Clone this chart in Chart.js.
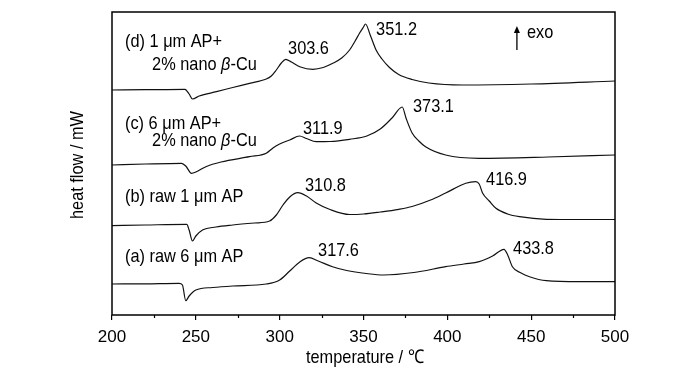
<!DOCTYPE html>
<html>
<head>
<meta charset="utf-8">
<script src="https://cdn.jsdelivr.net/npm/chart.js@4.4.1/dist/chart.umd.min.js"></script>
<style>
  html, body { margin: 0; padding: 0; background: #fff; }
  #wrap { width: 700px; height: 373px; }
</style>
</head>
<body>
<div id="wrap"><canvas id="dsc"></canvas></div>
<script>
// DSC curves, temperature (°C) vs heat flow (arbitrary, curves offset)
const tempA = [200, 220, 240, 242, 244, 246, 250, 260, 272, 292, 300, 306, 312, 317.6, 323, 331.5, 340, 351.6, 362, 380, 399, 410, 419, 427, 433.8, 436, 438.8, 444, 449, 459, 478.6, 500];
const flowA = [3.1, 3.12, 3.17, 3.0, 1.43, 1.9, 2.5, 2.75, 2.9, 3.1, 3.5, 4.4, 5.3, 5.73, 5.4, 4.83, 4.45, 4.15, 4.0, 4.25, 4.83, 5.1, 5.33, 5.9, 6.57, 6.0, 4.83, 4.2, 3.83, 3.43, 3.33, 3.33];

const tempB = [200, 220, 244.6, 246, 248, 250, 254, 262, 272, 285, 294, 298, 302, 306, 310.8, 316, 321.8, 330, 341.7, 350, 360, 371, 379, 390, 399, 411, 416.9, 419, 421, 425, 429, 436, 443, 459, 480, 500];
const flowB = [8.93, 9.0, 9.07, 8.5, 7.4, 7.9, 8.5, 8.8, 9.0, 9.2, 9.4, 10.0, 11.0, 11.8, 12.23, 11.9, 11.2, 10.55, 10.05, 10.1, 10.3, 10.57, 10.85, 11.5, 12.2, 13.17, 13.33, 13.1, 12.2, 11.4, 10.67, 10.1, 9.83, 9.57, 9.55, 9.55];

const tempC = [200, 220, 241.5, 244, 247.4, 250, 256, 265, 282, 292, 296, 300, 306, 311.9, 316, 321.8, 330, 341.7, 352, 360, 367, 373.1, 375.4, 379, 383, 387, 399, 419, 460, 500];
const flowC = [15.0, 15.1, 15.17, 14.9, 14.17, 14.3, 14.83, 15.3, 15.83, 16.17, 16.7, 17.1, 17.5, 17.9, 17.65, 17.33, 17.35, 17.57, 17.9, 18.6, 19.7, 20.8, 19.67, 18.2, 17.4, 16.83, 16.0, 15.67, 15.8, 16.0];

const tempD = [200, 220, 243.5, 246, 248, 252, 262.3, 272, 282, 292, 295, 298, 301, 303.6, 307, 312, 319.8, 326, 331.7, 337, 341.7, 345, 347.6, 350, 351.2, 354, 357.5, 361, 365.5, 371, 379, 389, 409, 450, 500];
const flowD = [22.5, 22.53, 22.57, 22.1, 21.6, 21.9, 22.33, 22.75, 23.17, 23.6, 23.9, 24.5, 25.2, 25.57, 25.3, 24.83, 24.57, 24.75, 25.17, 25.7, 26.5, 27.4, 28.17, 28.8, 29.1, 28.0, 26.5, 25.6, 24.75, 24.05, 23.55, 23.2, 23.0, 23.1, 23.4];

const xTicks = [200, 250, 300, 350, 400, 450, 500];

// text placed in data coordinates: [text, temperature, flow]
const notes = [
  ['(d) 1 \u03bcm AP+', 207.75, 27.3],
  ['2% nano |\u03b2|-Cu', 223.9, 25.0],
  ['(c) 6 \u03bcm AP+', 207.75, 19.1],
  ['2% nano |\u03b2|-Cu', 223.9, 17.4],
  ['(b) raw 1 \u03bcm AP', 207.75, 11.8],
  ['(a) raw 6 \u03bcm AP', 207.75, 5.8],
  ['303.6', 305.0, 26.6],
  ['351.2', 357.5, 28.5],
  ['311.9', 313.9, 18.6],
  ['373.1', 379.5, 20.8],
  ['310.8', 315.1, 12.9],
  ['416.9', 423.1, 13.5],
  ['317.6', 322.9, 6.4],
  ['433.8', 439.2, 6.6],
  ['exo', 447.5, 28.2]
];

const FONT = '"Liberation Sans", Arial, sans-serif';
const SQUEEZE = 0.86; // the original text is a condensed sans

function series(t, f) {
  return t.map((x, i) => ({ x: x, y: f[i] }));
}

// draws text squeezed horizontally, "|" toggles italic
function squeezed(ctx, txt, x, y, size, align) {
  ctx.save();
  ctx.translate(x, y);
  ctx.scale(SQUEEZE, 1);
  const parts = txt.split('|');
  let total = 0;
  parts.forEach((p, i) => {
    ctx.font = (i % 2 ? 'italic ' : '') + size + 'px ' + FONT;
    total += ctx.measureText(p).width;
  });
  let cx = align === 'center' ? -total / 2 : 0;
  ctx.textAlign = 'left';
  parts.forEach((p, i) => {
    ctx.font = (i % 2 ? 'italic ' : '') + size + 'px ' + FONT;
    ctx.fillText(p, cx, 0);
    cx += ctx.measureText(p).width;
  });
  ctx.restore();
}

const decor = {
  id: 'decor',
  afterDraw(chart) {
    const ctx = chart.ctx;
    const a = chart.chartArea;
    const xs = chart.scales.x, ys = chart.scales.y;
    ctx.save();
    // frame
    ctx.strokeStyle = '#000';
    ctx.lineWidth = 1.5;
    ctx.strokeRect(a.left, a.top, a.right - a.left, a.bottom - a.top);
    // minor ticks
    ctx.lineWidth = 1.2;
    for (let v = 225; v < 500; v += 50) {
      const px = Math.round(xs.getPixelForValue(v)) + 0.5;
      ctx.beginPath();
      ctx.moveTo(px, a.bottom);
      ctx.lineTo(px, a.bottom + 3);
      ctx.stroke();
    }
    // exo arrow
    const ax = xs.getPixelForValue(441.5);
    const y1 = ys.getPixelForValue(26.5), y2 = ys.getPixelForValue(28.9);
    ctx.lineWidth = 1.3;
    ctx.beginPath();
    ctx.moveTo(ax, y1);
    ctx.lineTo(ax, y2 + 5);
    ctx.stroke();
    ctx.fillStyle = '#000';
    ctx.beginPath();
    ctx.moveTo(ax, y2);
    ctx.lineTo(ax - 3, y2 + 7);
    ctx.lineTo(ax + 3, y2 + 7);
    ctx.closePath();
    ctx.fill();
    // notes
    ctx.textBaseline = 'middle';
    notes.forEach(([txt, tx, ty]) => {
      squeezed(ctx, txt, xs.getPixelForValue(tx), ys.getPixelForValue(ty), 19, 'left');
    });
    // axis titles
    squeezed(ctx, 'temperature / \u2103', 365, 358, 19, 'center');
    ctx.translate(78, 165);
    ctx.rotate(-Math.PI / 2);
    squeezed(ctx, 'heat flow / mW', 0, 0, 19, 'center');
    ctx.restore();
  }
};

const lineStyle = {
  borderColor: '#111',
  borderWidth: 1.2,
  pointRadius: 0,
  fill: false,
  cubicInterpolationMode: 'monotone'
};

new Chart(document.getElementById('dsc'), {
  type: 'line',
  data: {
    datasets: [
      Object.assign({ label: 'a', data: series(tempA, flowA) }, lineStyle),
      Object.assign({ label: 'b', data: series(tempB, flowB) }, lineStyle),
      Object.assign({ label: 'c', data: series(tempC, flowC) }, lineStyle),
      Object.assign({ label: 'd', data: series(tempD, flowD) }, lineStyle)
    ]
  },
  options: {
    responsive: true,
    maintainAspectRatio: false,
    animation: false,
    events: [],
    layout: { padding: { left: 0, right: 85, top: 12, bottom: 0 } },
    plugins: { legend: { display: false }, tooltip: { enabled: false } },
    scales: {
      x: {
        type: 'linear',
        min: 200,
        max: 500,
        afterBuildTicks: (s) => { s.ticks = xTicks.map(v => ({ value: v })); },
        afterFit: (s) => { s.height = 58; },
        border: { display: false },
        grid: { drawOnChartArea: false, tickLength: 5, color: '#000', lineWidth: 1.2 },
        ticks: { color: '#000', padding: 7, font: { family: FONT, size: 17 }, maxRotation: 0 }
      },
      y: {
        min: 0,
        max: 30.3,
        afterFit: (s) => { s.width = 112; },
        border: { display: false },
        grid: { display: false },
        ticks: { display: false }
      }
    }
  },
  plugins: [decor]
});
</script>
</body>
</html>
